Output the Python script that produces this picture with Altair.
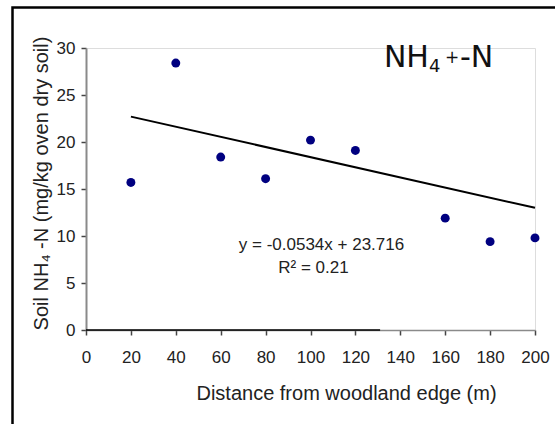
import altair as alt
import pandas as pd

# Data
distance = [20, 40, 60, 80, 100, 120, 160, 180, 200]
nh4 = [15.7, 28.4, 18.4, 16.1, 20.2, 19.1, 11.9, 9.4, 9.8]

trend_x = [20, 200]
trend_y = [22.7, 13.0]

eq_text = ["y = -0.0534x + 23.716", "R² = 0.21"]
eq_x = [104.9, 101.3]
eq_y = [8.5, 6.1]

# "NH4+-N" annotation anchor (data coordinates) and its pieces
label_x = [132.7]
label_y = [28.0]
label_main = ["NH"]
label_sub = ["4"]
label_sup = ["+"]
label_tail = ["-N"]

x_ticks = [0, 20, 40, 60, 80, 100, 120, 140, 160, 180, 200]
y_ticks = [0, 5, 10, 15, 20, 25, 30]

pts = pd.DataFrame({"d": distance, "v": nh4})
trend = pd.DataFrame({"d": trend_x, "v": trend_y})
eq = pd.DataFrame({"t": eq_text, "d": eq_x, "v": eq_y})
lab = pd.DataFrame({"d": label_x, "v": label_y, "main": label_main, "sub": label_sub,
                    "sup": label_sup, "tail": label_tail})

FONT = "Liberation Sans"

xscale = alt.Scale(domain=[0, 200], nice=False, zero=False)
yscale = alt.Scale(domain=[0, 30], nice=False)

x_enc = alt.X(
    "d:Q", scale=xscale,
    axis=alt.Axis(
        values=x_ticks, title="Distance from woodland edge (m)", grid=False,
        domainColor="#8a8a8a", domainWidth=1.5, tickColor="#444", tickSize=5, tickWidth=1.5,
        labelFont=FONT, labelFontSize=17, labelColor="#222", labelPadding=14,
        labelFlush=False, labelOverlap=False,
        titleFont=FONT, titleFontSize=20, titleFontWeight="normal", titleColor="#222",
        titleX=260, titleY=69, titleBaseline="alphabetic", titleAlign="center",
    ),
)
y_enc = alt.Y(
    "v:Q", scale=yscale,
    axis=alt.Axis(
        values=y_ticks, title="Soil NH₄ -N (mg/kg oven dry soil)", grid=False,
        domainColor="#8a8a8a", domainWidth=2, tickColor="#444", tickSize=5, tickWidth=1.5,
        labelFont=FONT, labelFontSize=17, labelColor="#222", labelPadding=6,
        labelFlush=False, labelOverlap=False,
        titleFont=FONT, titleFontSize=20, titleFontWeight="normal", titleColor="#222",
        titleX=-39, titleY=135, titleBaseline="alphabetic", titleAlign="center", titleAngle=270,
    ),
)

points = alt.Chart(pts).mark_circle(color="#000080", opacity=1, size=80).encode(x=x_enc, y=y_enc)

line = alt.Chart(trend).mark_line(color="black", strokeWidth=2).encode(
    x=alt.X("d:Q", scale=xscale), y=alt.Y("v:Q", scale=yscale)
)

black_axis = alt.Chart(pd.DataFrame({"a": [0], "b": [131], "v": [0]})).mark_rule(
    color="black", strokeWidth=1.5
).encode(x=alt.X("a:Q", scale=xscale), x2="b:Q", y=alt.Y("v:Q", scale=yscale))

eq_marks = alt.Chart(eq).mark_text(
    font=FONT, fontSize=17, color="#222", align="center", baseline="alphabetic"
).encode(x=alt.X("d:Q", scale=xscale), y=alt.Y("v:Q", scale=yscale), text="t:N")

lab_base = alt.Chart(lab)
lab_enc = dict(x=alt.X("d:Q", scale=xscale), y=alt.Y("v:Q", scale=yscale))
lab_main = lab_base.mark_text(
    font="DejaVu Sans", fontSize=30, color="#111", align="left", baseline="alphabetic"
).encode(text="main:N", **lab_enc)
lab_sub = lab_base.mark_text(
    font="DejaVu Sans", fontSize=18, color="#111", align="left", baseline="alphabetic",
    dx=45, dy=5
).encode(text="sub:N", **lab_enc)
lab_sup = lab_base.mark_text(
    font="DejaVu Sans", fontSize=17, color="#111", align="left", baseline="alphabetic",
    dx=61, dy=-4
).encode(text="sup:N", **lab_enc)
lab_tail = lab_base.mark_text(
    font="DejaVu Sans", fontSize=30, color="#111", align="left", baseline="alphabetic",
    dx=76
).encode(text="tail:N", **lab_enc)

frame = alt.Chart(pd.DataFrame({"k": [0]})).mark_rect(
    filled=False, stroke="black", strokeWidth=2.5
).encode(
    x=alt.value(-73.5), x2=alt.value(490), y=alt.value(-40.5), y2=alt.value(400)
)

chart = alt.layer(frame, black_axis, line, points, eq_marks,
                  lab_main, lab_sub, lab_sup, lab_tail).properties(
    width=449, height=282,
    autosize=alt.AutoSizeParams(type="none"),
    padding={"left": 86, "top": 48, "right": 20, "bottom": 94},
).configure_view(stroke=None).configure(background="white")

chart.save("out.html", embed_options={"renderer": "svg", "actions": False})
